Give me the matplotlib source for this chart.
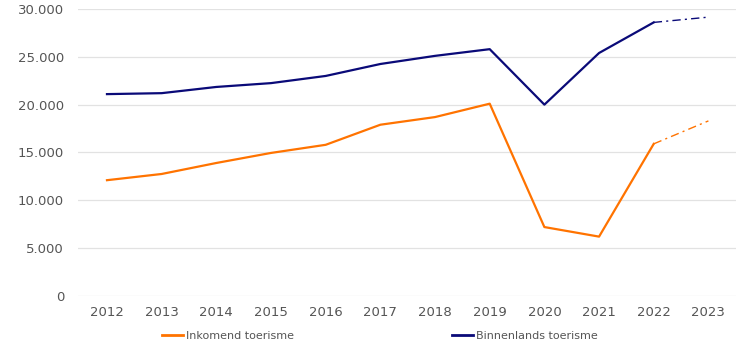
import matplotlib
matplotlib.use("Agg")
import matplotlib.pyplot as plt
from matplotlib.lines import Line2D

years = [2012, 2013, 2014, 2015, 2016, 2017, 2018, 2019, 2020, 2021, 2022, 2023]
inkomend = [12100, 12750, 13900, 14950, 15800, 17900, 18700, 20100, 7200, 6200, 15900, 18300]
binnenlands = [21100, 21200, 21850, 22250, 23000, 24250, 25100, 25800, 20000, 25400, 28600, 29150]
yticks = [0, 5000, 10000, 15000, 20000, 25000, 30000]
ytick_labels = ["0", "5.000", "10.000", "15.000", "20.000", "25.000", "30.000"]
series_names = ["Inkomend toerisme", "Binnenlands toerisme"]

orange = "#ff7300"
navy = "#0a0a78"
txt = "#555555"

plt.rcParams['font.family'] = ['DejaVu Sans']
fig = plt.figure(figsize=(7.5, 3.6), dpi=100)
ax = fig.add_axes([0.104, 0.178, 0.877, 0.797])

for vals, col in [(inkomend, orange), (binnenlands, navy)]:
    ax.plot(years[:-1], vals[:-1], color=col, lw=1.6, solid_joinstyle='round', zorder=3)
    ax.plot(years[-2:], vals[-2:], color=col, lw=1.0, linestyle=(0, (6, 3, 1.5, 3)), zorder=3)

ax.set_xlim(2011.47, 2023.5)
ax.set_ylim(0, 30000)
ax.set_yticks(yticks)
ax.set_yticklabels(ytick_labels)
ax.set_xticks(years)
ax.set_xticklabels([str(y) for y in years])
ax.grid(axis='y', color='#e2e2e2', lw=0.9)
ax.set_axisbelow(True)
for s in ax.spines.values():
    s.set_visible(False)
ax.tick_params(axis='both', length=0, labelsize=9.5, colors=txt, pad=10)
ax.tick_params(axis='x', pad=7)

handles = [Line2D([0], [0], color=orange, lw=2), Line2D([0], [0], color=navy, lw=2)]
fig.legend(handles, series_names, loc='center left', bbox_to_anchor=(0.203, 0.066),
           ncol=2, frameon=False, fontsize=8, labelcolor=txt, handlelength=1.9,
           handletextpad=0.25, columnspacing=14.2)

fig.savefig("out.png", dpi=100)
